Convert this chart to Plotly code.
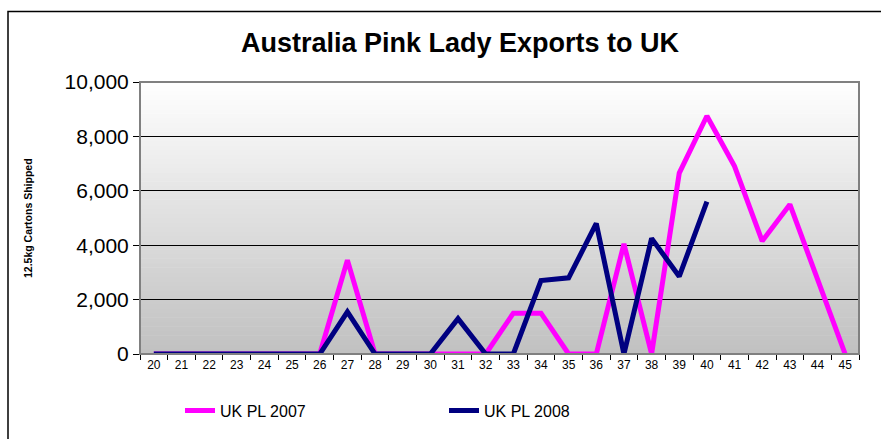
import plotly.graph_objects as go

weeks = [str(w) for w in range(20, 46)]
uk_pl_2007 = [0, 0, 0, 0, 0, 0, 0, 3450, 0, 0, 0, 0, 0, 1500, 1500, 0, 0, 4050, 0,
              6650, 8750, 6900, 4150, 5500, 2750, 0]
uk_pl_2008 = [0, 0, 0, 0, 0, 0, 0, 1550, 0, 0, 0, 1300, 0, 0, 2700, 2800, 4800, 0,
              4250, 2850, 5600, None, None, None, None, None]
y_ticks = [0, 2000, 4000, 6000, 8000, 10000]

W, H = 881, 439
L, R, T, B = 140, 22, 82, 83
PW, PH = W - L - R, H - T - B

def px_x(px):
    return (px - L) / PW

def px_y(py):
    return (H - B - py) / PH

font = "Arial, Liberation Sans, sans-serif"

fig = go.Figure()
fig.add_trace(go.Scatter(x=weeks, y=uk_pl_2007, mode="lines", name="UK PL 2007",
                         line=dict(color="#FF00FF", width=5)))
fig.add_trace(go.Scatter(x=weeks, y=uk_pl_2008, mode="lines", name="UK PL 2008",
                         line=dict(color="#000080", width=5), connectgaps=False))

shapes = []
n = 60
for i in range(n):
    t = (i + 0.5) / n
    c = int(round(192 + (255 - 192) * t))
    col = f"rgb({c},{c},{c})"
    shapes.append(dict(type="rect", xref="x domain", yref="y domain",
                       x0=0, x1=1, y0=i / n, y1=(i + 1) / n + 0.002,
                       fillcolor=col, line=dict(width=0), layer="below"))
shapes.append(dict(type="rect", xref="x domain", yref="y domain", x0=0, x1=1, y0=0, y1=1,
                   line=dict(color="#808080", width=2), layer="above"))
shapes.append(dict(type="rect", xref="paper", yref="paper",
                   x0=px_x(8), x1=px_x(895), y0=px_y(460), y1=px_y(11),
                   line=dict(color="black", width=1.5), layer="below"))

fig.update_layout(
    width=W, height=H,
    margin=dict(l=L, r=R, t=T, b=B),
    paper_bgcolor="white", plot_bgcolor="rgba(0,0,0,0)",
    font=dict(family=font, color="black"),
    title=dict(text="<b>Australia Pink Lady Exports to UK</b>", font=dict(size=27, family=font),
               x=460 / W, xanchor="center", y=1 - 43 / H, yanchor="middle"),
    shapes=shapes,
    showlegend=True,
    legend=dict(orientation="h", x=px_x(180), xanchor="left", y=px_y(413), yanchor="middle",
                font=dict(size=16, family=font), entrywidth=219, entrywidthmode="pixels",
                bgcolor="rgba(0,0,0,0)"),
    annotations=[dict(text="<b>12.5kg Cartons Shipped</b>", textangle=-90,
                      xref="paper", yref="paper", x=px_x(28), y=0.5,
                      xanchor="center", yanchor="middle", showarrow=False,
                      font=dict(size=10.5, family=font))],
)
fig.update_xaxes(type="category", tickson="boundaries", ticks="outside", ticklen=5,
                 range=[-0.5, len(weeks) - 0.5],
                 tickcolor="black", showgrid=False, showline=True, linecolor="black",
                 linewidth=1, tickfont=dict(size=12), zeroline=False)
fig.update_yaxes(range=[0, 10000], tickvals=y_ticks, tickformat=",d", ticks="outside",
                 ticklen=6, tickcolor="black", showgrid=True, gridcolor="black",
                 gridwidth=1, showline=True, linecolor="black", linewidth=1,
                 tickfont=dict(size=21), zeroline=False)

fig.write_html("out.html", config={"displayModeBar": False},
               post_script="document.body.style.margin='0';document.body.style.overflow='hidden';")
